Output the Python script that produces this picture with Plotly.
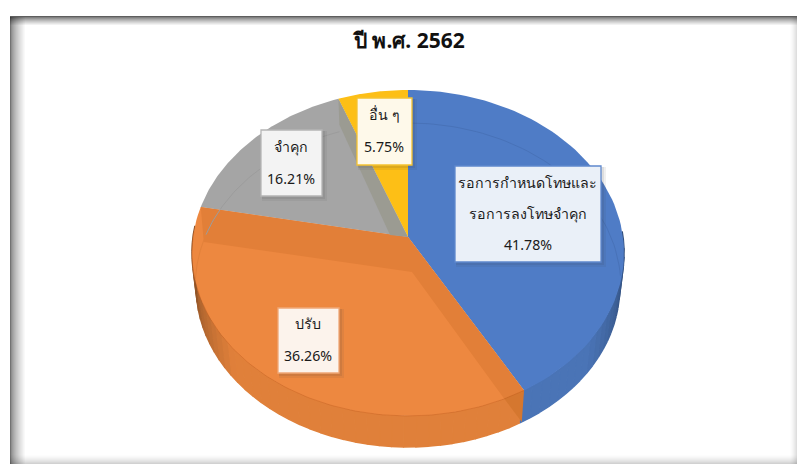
import numpy as np
import plotly.graph_objects as go

W, H = 797, 464
# Data
categories = ["รอการกำหนดโทษและ<br>รอการลงโทษจำคุก", "ปรับ", "จำคุก", "อื่น ๆ"]
values = [41.78, 36.26, 16.21, 5.75]
label_text = ["41.78%", "36.26%", "16.21%", "5.75%"]
title_text = "ปี พ.ศ. 2562"

# Style
top_colors = ["#4F7CC6", "#ED8840", "#A5A5A5", "#FDBF16"]
FONT = "Noto Sans, Tahoma, sans-serif"
AX, AY = 408, 237      # projected pie centre
A, B, K = 161.4, 215, 0.098
SHRINK, AY2 = 0.98, 271.6


def rim(theta_deg, low=False, dy=0.0):
    t = np.radians(theta_deg)
    u, v = np.sin(t), np.cos(t)
    w = 1 + K * v
    x, y = B * u / w, A * v / w
    if low:
        return AX + SHRINK * x, AY2 - SHRINK * y
    return AX + x, AY - y + dy


def poly(xs, ys, color, lw=0):
    return go.Scatter(x=list(xs), y=list(ys), mode="lines", fill="toself", fillcolor=color,
                      line=dict(color=color, width=lw),
                      hoverinfo="skip", showlegend=False)


def mix(c1, c2, f):
    a = [int(c1[i:i + 2], 16) for i in (1, 3, 5)]
    b = [int(c2[i:i + 2], 16) for i in (1, 3, 5)]
    return "#%02x%02x%02x" % tuple(int(round(p + (q - p) * f)) for p, q in zip(a, b))


edges = np.concatenate([[0], np.cumsum(values)]) * 3.6
fig = go.Figure()

# Side wall, drawn in short shaded pieces that overlap
side_pieces = np.arange(88, 272, 3.0)
for a0 in side_pieces:
    a1 = a0 + 3.0
    mid = (a0 + a1) / 2
    if mid < edges[1]:
        f = np.clip((mid - 88) / 40, 0, 1)
        col = mix("#2C466F", "#4A74B6", f)
    else:
        f = np.clip((270 - mid) / 40, 0, 1)
        col = mix("#7E4A24", "#E0803A", f)
    th = np.linspace(a0, a1, 3)
    tx, ty = rim(th)
    lx, ly = rim(th[::-1], True)
    fig.add_trace(poly(np.r_[tx, lx], np.r_[ty, ly], col, lw=1.5))

# Top faces
for i, col in enumerate(top_colors):
    th = np.linspace(edges[i], edges[i + 1], 80)
    xs, ys = rim(th)
    fig.add_trace(poly(np.r_[AX, xs, AX], np.r_[AY, ys, AY], col))

# Bevel band on the orange slice
p0 = rim(edges[1]); p1 = rim(edges[2])
fig.add_trace(poly([p0[0], AX, p1[0], p1[0] + 3, AX + 4, p0[0] - 20],
                   [p0[1], AY, p1[1], p1[1] + 35, AY + 35, p0[1] + 8], "#E27F38"))
# Darker fold on the wall beneath it
q0 = rim(edges[1], True)
fig.add_trace(poly([p0[0], p0[0] - 20, q0[0]], [p0[1], p0[1] + 8, q0[1]], "#D5772F"))
# Bevel band on the grey slice
p3 = rim(edges[3])
fig.add_trace(poly([p3[0], AX, AX - 18, p3[0] + 1], [p3[1], AY, AY - 2, p3[1] + 26], "#9B9B92"))

# Faint inner rims
for a0, a1, col in [(0, 92, "#4872B8"), (edges[2] + 2, edges[3], "#9C9C9C"), (edges[2] - 14, edges[2], "#E2813A")]:
    th = np.linspace(a0, a1, 50)
    xs, ys = rim(th, dy=33)
    xs = AX + (xs - AX) * 0.985
    fig.add_trace(go.Scatter(x=xs, y=ys, mode="lines", line=dict(color=col, width=1),
                             hoverinfo="skip", showlegend=False))
# Thin edge between face and wall
th = np.linspace(edges[1], 272, 120)
xs, ys = rim(th)
fig.add_trace(go.Scatter(x=xs, y=ys, mode="lines", hoverinfo="skip", showlegend=False,
                         line=dict(color="rgba(190,90,30,0.55)", width=0.7)))

shapes, annos = [], []


def box(x0, x1, y0, y1, fill, border):
    for d, al in [(5, .08), (3, .10)]:
        shapes.append(dict(type="rect", x0=x0 + 1, x1=x1 + d, y0=y0 + 1, y1=y1 + d, layer="above",
                           line_width=0, fillcolor=f"rgba(60,60,60,{al})"))
    shapes.append(dict(type="rect", x0=x0, x1=x1, y0=y0, y1=y1, layer="above",
                       fillcolor=fill, line=dict(color=border, width=1.3)))


def text(x, y, s, size=14.2, bold=False, color="#1A1A1A"):
    annos.append(dict(x=x, y=y, xref="x", yref="y", text=f"<b>{s}</b>" if bold else s, showarrow=False,
                      xanchor="center", yanchor="middle", font=dict(family=FONT, size=size, color=color)))


box(455, 601, 166, 262, "#EAF0F8", "#5F88CD")
box(278, 339, 308, 373, "#FCF3EC", "#F0A877")
box(261, 322, 130, 196, "#F3F3F3", "#B5B5B5")
box(357, 412, 98, 165, "#FEF9EA", "#F5C230")
name_lines = [c.split("<br>") for c in categories]
text(527, 182, name_lines[0][0]); text(528, 213, name_lines[0][1]); text(528, 244, label_text[0])
text(308, 323, name_lines[1][0]); text(308, 355, label_text[1])
text(291, 146, name_lines[2][0]); text(291, 178, label_text[2])
text(384, 114, name_lines[3][0]); text(384, 146, label_text[3])
text(408, 40, title_text, size=21, bold=True, color="#111111")


def shade(alpha):
    return f"rgba(0,0,0,{alpha:.3f})"


# Picture frame with inner shadow, using translucent strips so the corners blend
for i in range(10):
    a = 0.63 * (1 - min(1, (i / 9) ** 0.7))
    shapes.append(dict(type="line", x0=10, x1=W, y0=16.5 + i, y1=16.5 + i, line=dict(color=shade(a), width=1), layer="above"))
for i in range(16):
    a = 0.55 * (1 - (i / 15) ** 0.6)
    shapes.append(dict(type="line", x0=10.5 + i, x1=10.5 + i, y0=17, y1=H, line=dict(color=shade(a), width=1), layer="above"))
for i in range(10):
    a = 0.18 * (i / 9) ** 1.5
    shapes.append(dict(type="line", x0=10, x1=W, y0=454.5 + i, y1=454.5 + i, line=dict(color=shade(a), width=1), layer="above"))
for i in range(8):
    a = 0.13 * (i / 7) ** 1.5
    shapes.append(dict(type="line", x0=789.5 + i, x1=789.5 + i, y0=17, y1=H, line=dict(color=shade(a), width=1), layer="above"))

fig.update_layout(
    width=W, height=H, margin=dict(l=0, r=0, t=0, b=0),
    paper_bgcolor="#FFFFFF", plot_bgcolor="#FFFFFF", showlegend=False,
    xaxis=dict(range=[0, W], visible=False, fixedrange=True),
    yaxis=dict(range=[H, 0], visible=False, fixedrange=True),
    shapes=shapes, annotations=annos,
)
fig.write_html("out.html", config={"displayModeBar": False, "responsive": False},
               post_script="document.body.style.margin='0';document.body.style.overflow='hidden';")
